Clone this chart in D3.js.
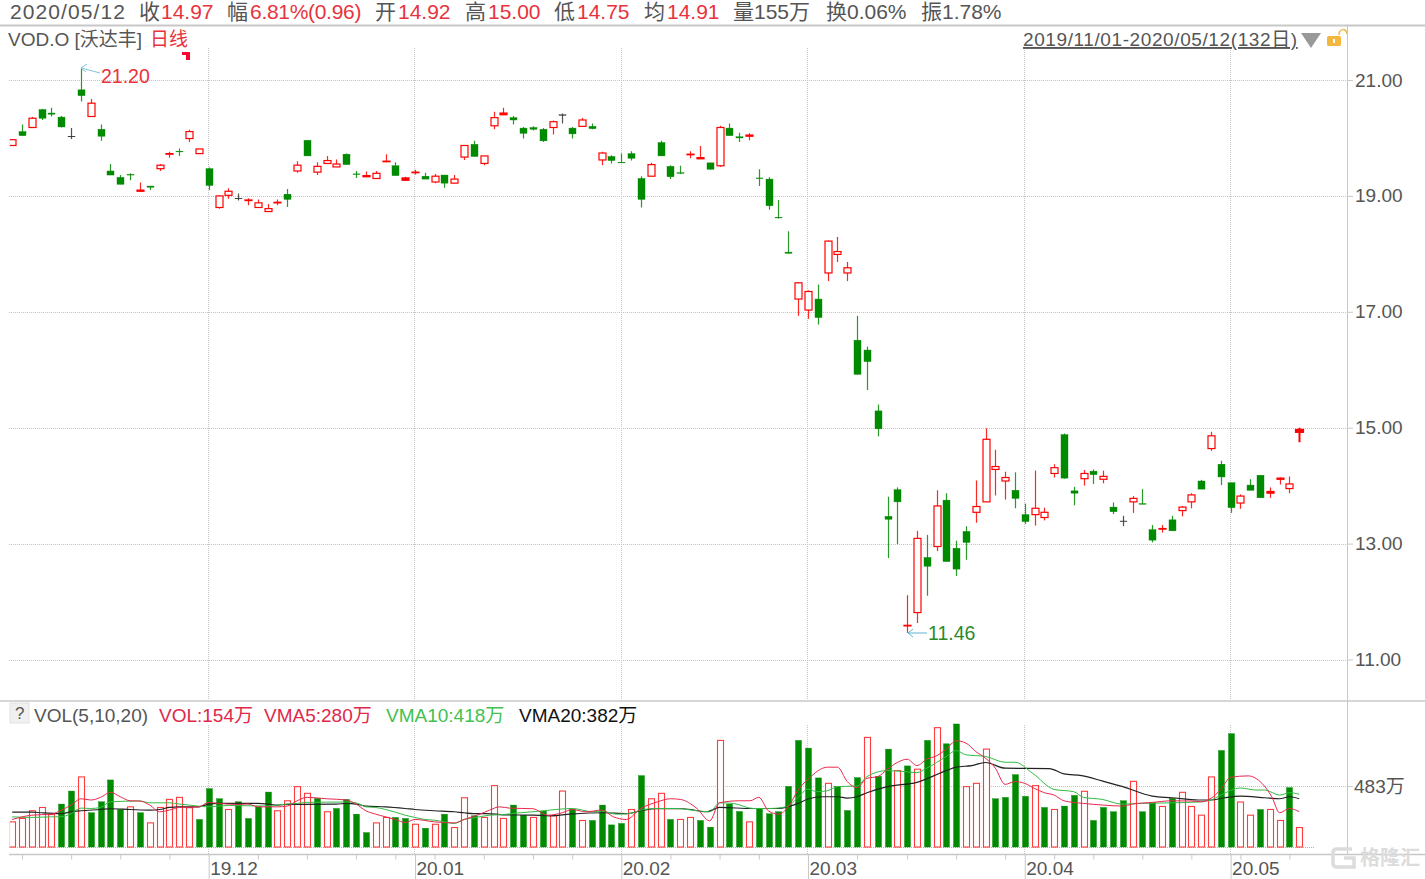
<!DOCTYPE html>
<html>
<head>
<meta charset="utf-8">
<script src="https://cdn.jsdelivr.net/npm/d3@7"></script>
<style>
  html, body { margin: 0; padding: 0; background: #fff; overflow: hidden; }
  text { font-family: "Liberation Sans", "Noto Sans CJK SC", sans-serif; }
</style>
</head>
<body>
<div id="chart"></div>
<script>
// daily candles, 2019/11/01 - 2020/05/12
var opens = [19.87,20.11,20.18,20.49,20.43,20.36,20.03,20.83,20.37,20.15,19.43,19.32,19.37,19.08,19.17,19.47,19.72,19.77,19.99,19.73,19.47,18.80,19.01,18.96,18.92,18.80,18.73,18.88,19.03,19.43,19.96,19.41,19.56,19.50,19.72,19.38,19.33,19.30,19.59,19.52,19.27,19.40,
  19.34,19.24,19.36,19.22,19.67,19.89,19.56,20.21,20.40,20.35,20.17,20.18,20.15,20.18,20.40,20.17,20.20,20.20,19.62,19.68,19.58,19.73,19.30,19.34,19.92,19.51,19.40,19.71,19.64,19.57,19.52,20.17,20.02,20.03,19.31,19.29,18.63,18.03,17.22,17.03,17.22,17.67,
  17.99,17.67,16.51,16.34,15.29,13.47,13.93,11.58,11.81,12.76,12.95,13.75,12.92,13.21,13.54,13.72,14.28,14.08,13.92,13.50,13.50,13.45,14.21,14.88,13.91,14.12,14.25,14.11,13.63,13.39,13.72,13.69,13.24,13.25,13.41,13.57,13.72,14.08,14.64,14.37,14.05,13.70,14.01,14.18,13.87,14.11,13.95,14.92];
var closes = [19.97,20.04,20.34,20.34,20.41,20.19,20.03,20.73,20.60,20.03,19.36,19.20,19.36,19.10,19.15,19.53,19.73,19.76,20.11,19.81,19.18,19.00,19.08,18.96,18.93,18.88,18.78,18.89,18.94,19.53,19.69,19.51,19.61,19.55,19.54,19.37,19.35,19.39,19.60,19.35,19.31,19.41,
  19.29,19.34,19.22,19.29,19.87,19.68,19.69,20.35,20.43,20.31,20.08,20.15,19.95,20.28,20.40,20.07,20.31,20.16,19.74,19.61,19.57,19.65,18.94,19.54,19.69,19.33,19.39,19.72,19.66,19.46,20.18,20.04,20.00,20.05,19.30,18.83,18.62,18.01,17.50,17.35,16.90,18.22,
  18.04,17.76,15.92,16.14,14.98,13.42,13.72,11.59,13.09,12.61,13.65,12.69,12.56,13.02,13.64,14.80,14.33,14.14,13.78,13.38,13.61,13.54,14.31,14.13,13.87,14.21,14.19,14.16,13.55,13.39,13.78,13.68,13.06,13.26,13.22,13.63,13.84,13.94,14.86,14.15,13.62,13.82,13.92,13.79,13.90,14.13,14.03,14.97];
var highs = [19.97,20.23,20.36,20.50,20.52,20.38,20.17,21.20,20.67,20.23,19.55,19.36,19.39,19.23,19.17,19.55,19.76,19.82,20.14,19.81,19.49,19.01,19.13,19.04,18.96,18.94,18.86,18.94,19.12,19.60,19.96,19.58,19.69,19.63,19.73,19.43,19.42,19.43,19.72,19.58,19.33,19.45,
  19.40,19.38,19.36,19.36,19.87,19.95,19.69,20.45,20.52,20.38,20.19,20.20,20.17,20.30,20.42,20.19,20.35,20.25,19.76,19.70,19.73,19.77,19.34,19.57,19.95,19.53,19.52,19.77,19.86,19.57,20.21,20.25,20.09,20.08,19.46,19.32,18.93,18.39,17.51,17.37,17.47,18.23,
  18.29,17.86,16.93,16.40,15.40,13.81,13.97,12.11,13.22,13.15,13.92,13.87,13.05,13.30,14.09,14.99,14.62,14.24,14.23,13.69,14.26,13.62,14.37,14.90,13.98,14.27,14.28,14.26,13.71,13.48,13.82,13.94,13.32,13.32,13.48,13.65,13.87,14.10,14.93,14.43,14.05,13.85,14.11,14.18,13.97,14.14,14.16,15.00];
var lows = [19.87,20.04,20.18,20.31,20.37,20.18,19.98,20.63,20.37,19.95,19.36,19.20,19.27,19.07,19.10,19.43,19.66,19.69,19.93,19.73,19.10,18.78,18.95,18.92,18.84,18.80,18.73,18.84,18.81,19.40,19.69,19.36,19.56,19.50,19.54,19.31,19.33,19.30,19.58,19.35,19.26,19.37,
  19.29,19.22,19.14,19.22,19.62,19.68,19.53,20.15,20.40,20.23,19.99,20.13,19.93,20.06,20.25,19.99,20.20,20.15,19.53,19.56,19.57,19.61,18.80,19.34,19.69,19.29,19.38,19.65,19.64,19.46,19.50,20.04,19.93,19.96,19.17,18.76,18.61,18.00,16.93,16.88,16.78,17.53,
  17.86,17.53,15.92,15.65,14.85,12.75,12.99,11.46,11.63,12.10,12.87,12.69,12.44,12.72,13.36,13.72,13.83,13.76,13.61,13.34,13.31,13.40,14.14,14.12,13.66,14.00,14.03,14.04,13.51,13.30,13.53,13.68,13.02,13.19,13.22,13.47,13.61,13.94,14.60,14.01,13.53,13.60,13.92,13.79,13.79,14.02,13.87,14.75];

// volume, in 万 shares
var volumes = [199,226,287,313,257,340,443,555,271,358,531,297,318,271,191,313,377,393,311,218,462,382,297,358,226,318,435,287,366,478,425,385,279,305,377,260,114,191,234,234,226,180,149,180,260,154,390,247,
  234,486,226,332,252,234,284,247,443,300,210,210,332,175,186,297,565,382,425,218,218,234,210,157,844,340,281,199,303,263,279,480,844,783,547,504,480,289,549,868,560,775,605,642,616,844,945,817,
  974,478,504,775,382,393,573,401,486,313,297,324,409,441,210,313,279,366,520,279,350,321,385,433,321,252,555,764,897,356,252,297,297,210,470,154];
var volDown = [5,6,8,9,10,11,13,19,20,21,23,24,25,26,31,33,34,35,36,39,40,42,44,47,51,52,54,57,59,60,61,62,64,67,70,71,73,74,76,77,78,79,80,81,82,84,85,86,88,89,91,93,95,96,100,101,102,103,105,107,108,110,111,112,113,115,116,118,123,124,127,130];

// moving averages as [candle, value]
var vma5 = [[0,218],[2,252],[4,260],[5,292],[6,332],[7,382],[8,372],[9,393],[10,433],[11,398],[12,366],[13,364],[14,332],[15,279],[16,292],[17,313],[19,318],[20,353],[21,345],[23,337],[24,340],[25,318],[27,318],[28,324],[29,366],[30,393],[32,382],[34,372],[35,340],[36,287],[37,260],[38,239],[39,218],[40,194],[41,218],[43,199],[45,191],[46,218],[47.6,260],[48.6,292],[49.6,318],[50.6,308],[53,303],[54.5,252],[56,271],[57,297],[58.4,279],[60,292],[61.2,239],[62.5,218],[64,305],[65.7,358],[67,382],[68,377],[69.7,305],[71,207],[72,350],[74,366],[75.1,366],[76,393],[77,284],[78,260],[79,318],[80,451],[81,536],[83,632],[84,632],[85,518],[86,470],[87,544],[88,557],[89,616],[90,669],[91,695],[92,645],[93,695],[94,722],[95,775],[96,841],[97,823],[98,756],[99,703],[100,624],[101,496],[102,518],[103,504],[104,464],[105,430],[106,411],[107,366],[109,345],[111,332],[113,324],[114,340],[116,353],[118,366],[120,364],[121,358],[122,385],[123,456],[124,552],[125.8,563],[127.2,504],[128.2,398],[129,271],[130,305],[131,280]];
var vma10 = [[0,239],[2,234],[4,239],[5,239],[6,265],[7,308],[8,305],[9,313],[10,358],[13,364],[14,350],[16,350],[17,340],[18,332],[20,318],[22,329],[26,324],[27,332],[28,340],[29,345],[30,353],[34,356],[35,350],[36,318],[37,313],[38,297],[39,276],[40,252],[41,234],[42,218],[43,212],[44,199],[45,186],[46,218],[47,231],[48.6,252],[50,257],[51.7,271],[53,279],[54.7,292],[57,305],[59.1,279],[60,284],[61.5,260],[62.9,265],[64,292],[65.6,305],[67.6,305],[69.7,287],[71,279],[72,350],[73.4,345],[75.4,305],[77,305],[78.8,318],[80,393],[81,459],[81.9,438],[83,446],[84,478],[86,483],[87,557],[89,605],[90.7,597],[92,589],[93,624],[95,717],[96,764],[97,730],[99,717],[101,671],[102,671],[103.8,584],[106,456],[108,438],[109,393],[110.9,377],[112.9,340],[114.9,345],[118,350],[120.7,356],[122,372],[123,411],[125,467],[126.6,451],[127.5,451],[129,411],[130,430],[131,418]];
var vma20 = [[0,276],[2,276],[3,271],[5,265],[6,279],[7,287],[9,297],[10,303],[12,297],[14,292],[15,297],[16,313],[17,318],[19,318],[20,340],[21,345],[25,345],[26,340],[27,332],[28,337],[33,340],[34,345],[35,340],[36,324],[38,318],[40,305],[41,297],[43,287],[45,279],[46,271],[47,265],[48.3,265],[50,255],[53,252],[54.7,247],[56.8,260],[60.2,271],[62.5,265],[64,287],[65.6,303],[68.3,303],[70.7,279],[72,313],[75.4,305],[78,305],[80,345],[81,380],[82.5,398],[84,398],[85,387],[86,398],[87,430],[89,478],[92,512],[95,605],[96,632],[97.6,645],[99,669],[101,624],[105.5,621],[107,579],[108.8,565],[110.9,523],[113,478],[116,403],[118,390],[120.7,372],[122,372],[123.4,390],[125,403],[127.5,390],[129,382],[130,398],[131,382]];

var priceTicks = [21, 19, 17, 15, 13, 11];
var volTicks = [483];
var monthLabels = ["19.12", "20.01", "20.02", "20.03", "20.04", "20.05"];
var monthIdx = [20, 41, 62, 81, 103, 124];
var minorIdx = [1,6,11,16,25,30,35,39,43,48,53,57,67,72,76,86,91,96,101,106,110,115,120,125,130];

var header = [
  ["2020/05/12", 10, "#555", 1.1], ["收", 139, "#555", 0], ["14.97", 161, "#e8333c", 0],
  ["幅", 227, "#555", 0], ["6.81%(0.96)", 250, "#e8333c", -0.3], ["开", 375, "#555", 0], ["14.92", 398, "#e8333c", 0],
  ["高", 465, "#555", 0], ["15.00", 488, "#e8333c", 0], ["低", 554, "#555", 0], ["14.75", 577, "#e8333c", 0],
  ["均", 644, "#555", 0], ["14.91", 667, "#e8333c", 0], ["量155万", 733, "#555", 0], ["换0.06%", 826, "#555", 0], ["振1.78%", 921, "#555", 0]
];
var volHeader = [
  ["VOL(5,10,20)", 34, "#555"], ["VOL:154万", 159, "#e0284a"], ["VMA5:280万", 264, "#e0284a"],
  ["VMA10:418万", 386, "#3fc24f"], ["VMA20:382万", 519, "#111"]
];

var width = 1425, height = 879;
var red = "#ff0000", green = "#008a00", gridColor = "#c4c4c4", lineColor = "#c8c8c8";

var svg = d3.select("#chart").append("svg")
    .attr("width", width)
    .attr("height", height)
    .style("display", "block");

// the reference steps about 1px wider at the 88th candle
var x = d3.scaleLinear().domain([0, 87, 88, 131]).range([12.2, 866.9, 877.7, 1299.2]);
var y = d3.scaleLinear().domain([11, 21]).range([659.5, 80]);
var yVol = d3.scaleLinear().domain([0, 483]).range([847, 786]);

svg.append("defs").append("clipPath").attr("id", "plot")
  .append("rect").attr("x", 9.8).attr("y", 26).attr("width", 1337).attr("height", 830);

// grid
var grid = svg.append("g").attr("stroke", gridColor).attr("stroke-dasharray", "1,1");
grid.selectAll("line.h").data(priceTicks).enter().append("line")
    .attr("x1", 9).attr("x2", 1347)
    .attr("y1", function(d) { return Math.round(y(d)) + 0.5; })
    .attr("y2", function(d) { return Math.round(y(d)) + 0.5; });
grid.selectAll("line.v").data(monthIdx).enter().append("line")
    .attr("x1", function(d) { return Math.floor(x(d)) + 0.5; })
    .attr("x2", function(d) { return Math.floor(x(d)) + 0.5; })
    .attr("y1", 48).attr("y2", 700);
grid.selectAll("line.vv").data(monthIdx).enter().append("line")
    .attr("x1", function(d) { return Math.floor(x(d)) + 0.5; })
    .attr("x2", function(d) { return Math.floor(x(d)) + 0.5; })
    .attr("y1", 725).attr("y2", 854);
grid.append("line").attr("x1", 9).attr("x2", 1347)
    .attr("y1", Math.round(yVol(483)) + 0.5).attr("y2", Math.round(yVol(483)) + 0.5);

// frame lines
var frame = svg.append("g").attr("stroke", lineColor);
frame.append("line").attr("x1", 0).attr("x2", width).attr("y1", 25.5).attr("y2", 25.5).attr("stroke-width", 2);
frame.append("line").attr("x1", 0).attr("x2", width).attr("y1", 701).attr("y2", 701).attr("stroke-width", 1.5);
frame.append("line").attr("x1", 1347.5).attr("x2", 1347.5).attr("y1", 26).attr("y2", 854);
frame.append("line").attr("x1", 9).attr("x2", width).attr("y1", 854.5).attr("y2", 854.5).attr("stroke-width", 1.5);
svg.append("line").attr("x1", 9).attr("x2", 1315).attr("y1", 847.5).attr("y2", 847.5)
    .attr("stroke", "#7fc4dc").attr("stroke-dasharray", "1,1");

// candles
var candles = svg.append("g").attr("clip-path", "url(#plot)")
  .selectAll("g").data(d3.range(opens.length)).enter().append("g")
    .attr("transform", function(i) { return "translate(" + (Math.round(x(i)) + 0.5) + ",0)"; });

function candleColor(i) {
  if (closes[i] > opens[i]) return red;
  if (closes[i] < opens[i]) return green;
  return "#333";
}

function bodyHeight(i) {
  return Math.abs(y(opens[i]) - y(closes[i]));
}

candles.append("line")
    .attr("y1", function(i) { return y(highs[i]); })
    .attr("y2", function(i) { return y(lows[i]); })
    .attr("stroke", candleColor)
    .attr("stroke-opacity", function(i) { return i == 131 ? 1 : 0.85; })
    .attr("stroke-width", function(i) { return i == 131 ? 2 : 1.2; });

candles.append("rect")
    .attr("x", function(i) { return i == 131 ? -4 : -3.5; })
    .attr("width", function(i) { return i == 131 ? 8 : 7; })
    .attr("y", function(i) { return y(Math.max(opens[i], closes[i])); })
    .attr("height", function(i) { return Math.max(0.6, bodyHeight(i)); })
    .attr("fill", function(i) {
      // thin bodies and the last candle read as solid
      if (closes[i] > opens[i] && bodyHeight(i) > 2.5 && i != 131) return "#fff";
      return candleColor(i);
    })
    .attr("stroke", candleColor)
    .attr("stroke-width", function(i) { return closes[i] > opens[i] ? 1.2 : 0.4; });

// volume bars
var volDownSet = new Set(volDown);
svg.append("g").attr("clip-path", "url(#plot)")
  .selectAll("rect").data(volumes).enter().append("rect")
    .attr("x", function(d, i) { return Math.round(x(i)) - 2.5; })
    .attr("width", 6)
    .attr("y", function(d) { return yVol(d); })
    .attr("height", function(d) { return yVol(0) - yVol(d); })
    .attr("fill", function(d, i) { return volDownSet.has(i) ? green : "#fff"; })
    .attr("stroke", function(d, i) { return volDownSet.has(i) ? green : "#ff3b3b"; })
    .attr("stroke-width", function(d, i) { return volDownSet.has(i) ? 0.4 : 1.1; });

// moving average lines
var maLine = d3.line()
    .x(function(d) { return x(d[0]); })
    .y(function(d) { return yVol(d[1]); })
    .curve(d3.curveMonotoneX);

var maSeries = [[vma20, "#222", 1.2], [vma10, "#33bb44", 1], [vma5, "#e8274f", 1]];
svg.append("g").attr("clip-path", "url(#plot)")
  .selectAll("path").data(maSeries).enter().append("path")
    .attr("d", function(d) { return maLine(d[0]); })
    .attr("fill", "none")
    .attr("stroke", function(d) { return d[1]; })
    .attr("stroke-width", function(d) { return d[2]; });

// axes
var yAxis = d3.axisRight(y).tickValues(priceTicks).tickFormat(d3.format(".2f")).tickSize(5).tickPadding(2);
var yAxisG = svg.append("g").attr("transform", "translate(1348,0)").call(yAxis);
var volAxis = d3.axisRight(yVol).tickValues(volTicks).tickFormat(function(d) { return d + "万"; }).tickSize(5).tickPadding(1);
var volAxisG = svg.append("g").attr("transform", "translate(1348,0)").call(volAxis);

var xMinor = d3.axisBottom(x).tickValues(minorIdx).tickSize(5).tickFormat("");
var xMinorG = svg.append("g").attr("transform", "translate(0,854.5)").call(xMinor);
var xMonth = d3.axisBottom(x).tickValues(monthIdx).tickSize(25)
    .tickFormat(function(d, i) { return monthLabels[i]; });
var xMonthG = svg.append("g").attr("transform", "translate(0,854.5)").call(xMonth);

[yAxisG, volAxisG, xMinorG, xMonthG].forEach(function(g) {
  g.select(".domain").remove();
  g.selectAll("line").attr("stroke", lineColor);
});
yAxisG.selectAll("text").attr("font-size", 19).attr("fill", "#555");
volAxisG.selectAll("text").attr("font-size", 19).attr("fill", "#555");
xMonthG.selectAll("text").attr("font-size", 19).attr("fill", "#555")
    .attr("text-anchor", "start").attr("x", 1).attr("y", 7).attr("dy", "0.71em");

// header rows
svg.append("g").selectAll("text").data(header).enter().append("text")
    .attr("x", function(d) { return d[1]; })
    .attr("y", 19)
    .attr("font-size", 21)
    .attr("letter-spacing", function(d) { return d[3]; })
    .attr("fill", function(d) { return d[2]; })
    .text(function(d) { return d[0]; });

svg.append("text").attr("x", 8).attr("y", 46).attr("font-size", 19).attr("fill", "#555").text("VOD.O [沃达丰]");
svg.append("text").attr("x", 150).attr("y", 46).attr("font-size", 19).attr("fill", "#e8333c").text("日线");
svg.append("text").attr("x", 1023).attr("y", 46).attr("font-size", 19).attr("letter-spacing", 0.6).attr("fill", "#555")
    .attr("text-decoration", "underline").text("2019/11/01-2020/05/12(132日)");
svg.append("path").attr("d", "M1301,33 L1321,33 L1311,48 Z").attr("fill", "#999");

// lock icon
svg.append("rect").attr("x", 1327).attr("y", 36).attr("width", 14).attr("height", 10).attr("rx", 1.5).attr("fill", "#f3b63f");
svg.append("rect").attr("x", 1333).attr("y", 39).attr("width", 2).attr("height", 4).attr("fill", "#fff");
svg.append("path").attr("d", "M1339,35 C1339,28 1347,28 1347,34").attr("fill", "none").attr("stroke", "#f3b63f").attr("stroke-width", 1.5);

// small red corner mark
svg.append("path").attr("d", "M182,52 L190,52 L190,60 L186,60 L186,55 L182,55 Z").attr("fill", "#ff0033");

// high and low notes
svg.append("path").attr("d", "M100,73 L81,68 M87,64 L81,68 L86,72").attr("fill", "none").attr("stroke", "#7fc4dc");
svg.append("text").attr("x", 101).attr("y", 83).attr("font-size", 19.5).attr("fill", "#e8333c").text("21.20");
svg.append("path").attr("d", "M927,633 L908,633 M913,629 L908,633 L913,637").attr("fill", "none").attr("stroke", "#5fb4d0");
svg.append("text").attr("x", 928).attr("y", 640).attr("font-size", 19.5).attr("fill", "#2a8a2a").text("11.46");

// volume header row
svg.append("rect").attr("x", 10).attr("y", 703).attr("width", 19).attr("height", 20).attr("fill", "#f0f0f0").attr("stroke", "#e2e2e2");
svg.append("text").attr("x", 15).attr("y", 719).attr("font-size", 17).attr("fill", "#555").text("?");
svg.append("g").selectAll("text").data(volHeader).enter().append("text")
    .attr("x", function(d) { return d[1]; })
    .attr("y", 722)
    .attr("font-size", 19)
    .attr("fill", function(d) { return d[2]; })
    .text(function(d) { return d[0]; });

// watermark
var mark = svg.append("g").attr("fill", "none").attr("stroke", "#dcdcdc").attr("stroke-width", 3.5);
mark.append("path").attr("d", "M1352,849 L1337,849 Q1333,849 1333,853 L1333,863 Q1333,867 1337,867 L1354,867 L1354,858 L1344,858");
svg.append("text").attr("x", 1360).attr("y", 865).attr("font-size", 20).attr("font-weight", "bold").attr("fill", "#dcdcdc").text("格隆汇");
</script>
</body>
</html>
